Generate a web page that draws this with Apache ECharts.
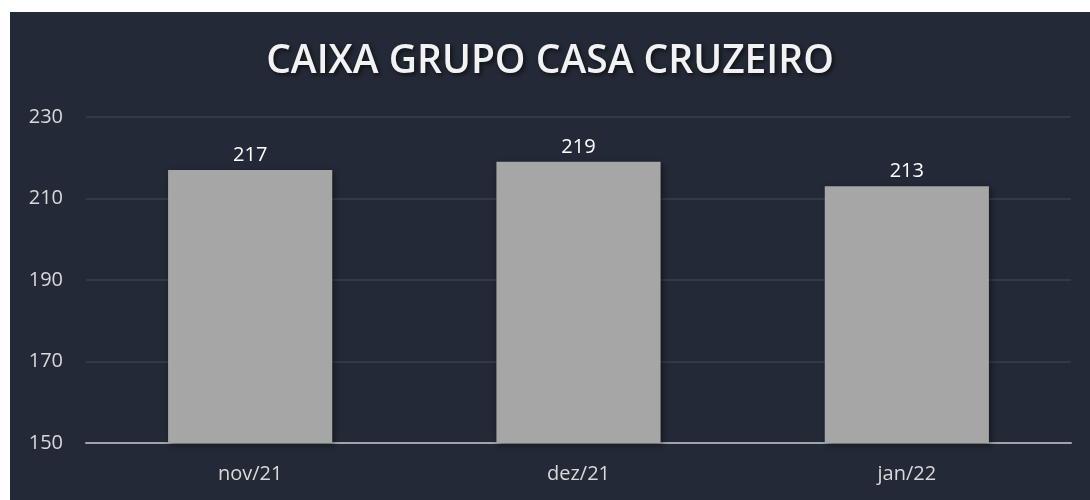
<!DOCTYPE html>
<html>
<head>
<meta charset="utf-8">
<script src="https://cdn.jsdelivr.net/npm/echarts@6/dist/echarts.min.js"></script>
<style>
  html, body { margin: 0; padding: 0; background: #ffffff; }
  #chart { position: absolute; left: 10px; top: 12px; width: 1080px; height: 488px; }
</style>
</head>
<body>
<div id="chart"></div>
<script>
const categories = ['nov/21', 'dez/21', 'jan/22']
const caixa = [217, 219, 213]
const yTicks = [150, 170, 190, 210, 230]

const chart = echarts.init(document.getElementById('chart'))

chart.setOption({
  backgroundColor: '#232936',
  animation: false,
  textStyle: { fontFamily: 'Open Sans, sans-serif' },
  title: {
    text: 'CAIXA GRUPO CASA CRUZEIRO',
    left: 'center',
    top: 25,
    textStyle: {
      color: '#f2f2f2',
      fontSize: 39,
      fontWeight: 600,
      fontFamily: 'Open Sans, sans-serif',
      textShadowColor: 'rgba(0,0,0,0.6)',
      textShadowBlur: 4,
      textShadowOffsetX: 2,
      textShadowOffsetY: 2,
    },
  },
  grid: { left: 76, right: 19, top: 105, bottom: 57 },
  xAxis: {
    type: 'category',
    data: categories,
    axisTick: { show: false },
    axisLine: { lineStyle: { color: '#a0a3a8', width: 2 } },
    axisLabel: { color: '#d9d9d9', fontSize: 20, margin: 21 },
  },
  yAxis: {
    type: 'value',
    min: yTicks[0],
    max: yTicks[yTicks.length - 1],
    interval: 20,
    axisLine: { show: false },
    axisTick: { show: false },
    axisLabel: { color: '#d9d9d9', fontSize: 20, margin: 23 },
    splitLine: { lineStyle: { color: '#3a404c', width: 1.5 } },
  },
  series: [
    {
      type: 'bar',
      data: caixa,
      barWidth: '50%',
      itemStyle: {
        color: '#a6a6a6',
        shadowColor: 'rgba(0,0,0,0.45)',
        shadowBlur: 6,
        shadowOffsetX: 2,
        shadowOffsetY: 2,
      },
      label: {
        show: true,
        position: 'top',
        distance: 5,
        color: '#ffffff',
        fontSize: 20,
      },
    },
  ],
})
</script>
</body>
</html>
